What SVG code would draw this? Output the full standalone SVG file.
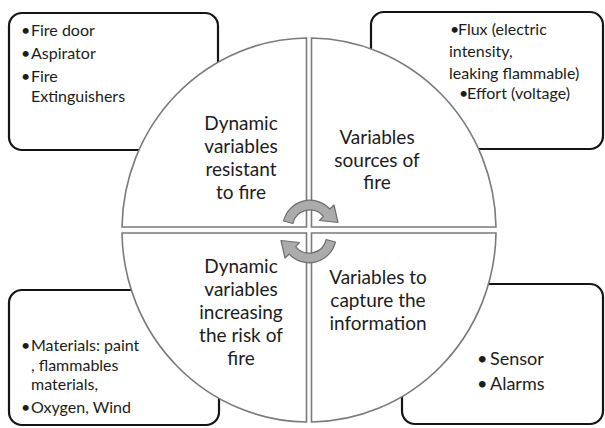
<svg xmlns="http://www.w3.org/2000/svg" width="605" height="428" viewBox="0 0 605 428">
<style>
.box{fill:#fff;stroke:#151515;stroke-width:2.2}
.sec{fill:#fff;stroke:#7a7a7a;stroke-width:1.6}
.bt{font-family:Lato,"Liberation Sans",sans-serif;font-size:16px;fill:#1c1c1c}
.bb{font-family:Lato,"Liberation Sans",sans-serif;font-size:18px;fill:#1c1c1c}
.st{font-family:Lato,"Liberation Sans",sans-serif;font-size:19px;fill:#1c1c1c;text-anchor:middle}
.arr{fill:#ababab;stroke:#6e6e6e;stroke-width:1.2;stroke-linejoin:round}
</style>
<defs>
<path id="carrow" d="M 283.6,221 A 27 27 0 0 1 329.8,209 L 334,205 L 338,222.5 L 319.5,220.5 L 323.4,216.3 A 17.5 17.5 0 0 0 292.8,223.5 Z"/>
</defs>
<rect width="605" height="428" fill="#fff"/>
<g id="box-tl">
<rect class="box" x="9" y="13" width="209" height="137" rx="13"/>
<text class="bt"><tspan x="21" y="36">•</tspan><tspan x="31" y="36">Fire door</tspan></text>
<text class="bt"><tspan x="21" y="59">•</tspan><tspan x="31" y="59">Aspirator</tspan></text>
<text class="bt"><tspan x="21" y="82">•</tspan><tspan x="31" y="82">Fire</tspan><tspan x="31" y="102">Extinguishers</tspan></text>
</g>
<g id="box-tr">
<rect class="box" x="371" y="12" width="232" height="137" rx="13"/>
<text class="bt"><tspan x="450" y="35">•</tspan><tspan x="458" y="35">Flux (electric</tspan><tspan x="449" y="57">intensity,</tspan><tspan x="449" y="79">leaking flammable)</tspan></text>
<text class="bt"><tspan x="459" y="99">•</tspan><tspan x="467" y="99">Effort (voltage)</tspan></text>
</g>
<g id="box-bl">
<rect class="box" x="9" y="290" width="210" height="135" rx="13"/>
<text class="bt"><tspan x="21" y="351">•</tspan><tspan x="31" y="351">Materials: paint</tspan><tspan x="31" y="371">, flammables</tspan><tspan x="31" y="390">materials,</tspan></text>
<text class="bt"><tspan x="21" y="413">•</tspan><tspan x="31" y="413">Oxygen, Wind</tspan></text>
</g>
<g id="box-br">
<rect class="box" x="402" y="284" width="201" height="140" rx="13"/>
<text class="bb"><tspan x="477" y="365">•</tspan><tspan x="490" y="365">Sensor</tspan></text>
<text class="bb"><tspan x="477" y="390">•</tspan><tspan x="490" y="390">Alarms</tspan></text>
</g>
<g id="sector-tl">
<path class="sec" d="M306.5,227 L306.5,38 A187 192 0 0 0 122,227 Z"/>
<text class="st"><tspan x="241" y="130">Dynamic</tspan><tspan x="241" y="153">variables</tspan><tspan x="241" y="176">resistant</tspan><tspan x="241" y="199">to fire</tspan></text>
</g>
<g id="sector-tr">
<path class="sec" d="M311.5,227 L311.5,38 A187 192 0 0 1 496,227 Z"/>
<text class="st"><tspan x="377" y="144">Variables</tspan><tspan x="377" y="167">sources of</tspan><tspan x="377" y="189">fire</tspan></text>
</g>
<g id="sector-bl">
<path class="sec" d="M306.5,233 L122,233 A187 192 0 0 0 306.5,422 Z"/>
<text class="st"><tspan x="241" y="273">Dynamic</tspan><tspan x="241" y="296">variables</tspan><tspan x="241" y="319">increasing</tspan><tspan x="241" y="342">the risk of</tspan><tspan x="241" y="365">fire</tspan></text>
</g>
<g id="sector-br">
<path class="sec" d="M311.5,233 L311.5,422 A187 192 0 0 0 496,233 Z"/>
<text class="st"><tspan x="378" y="284">Variables to</tspan><tspan x="378" y="307">capture the</tspan><tspan x="378" y="330">information</tspan></text>
</g>
<g id="connectors">
<use href="#carrow" class="arr"/>
<use href="#carrow" class="arr" transform="rotate(180 309.5 231.5)"/>
</g>
</svg>
